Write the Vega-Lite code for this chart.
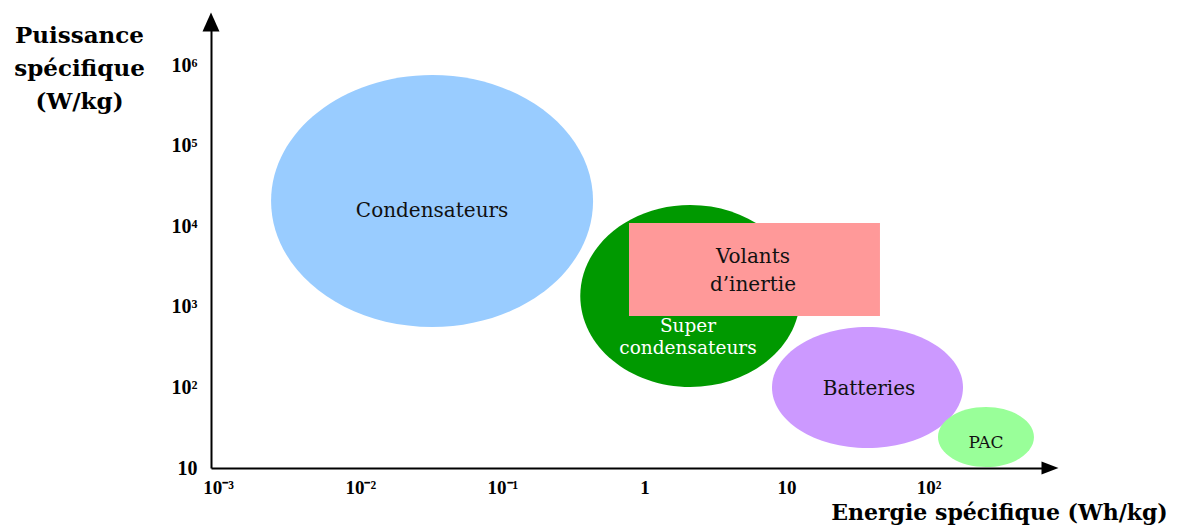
{
  "$schema": "https://vega.github.io/schema/vega-lite/v6.json",
  "width": 839,
  "height": 446,
  "autosize": {"type": "none"},
  "padding": {"left": 211, "top": 22, "right": 134, "bottom": 58},
  "background": "white",
  "config": {"view": {"stroke": null}},
  "datasets": {
    "ellipses": [
      {"name": "Condensateurs", "energie": 0.032, "puissance": 20550},
      {"name": "Super condensateurs", "energie": 2.1, "puissance": 1361},
      {"name": "Batteries", "energie": 37.1, "puissance": 99.7},
      {"name": "PAC", "energie": 253, "puissance": 24.2}
    ],
    "rects": [
      {"name": "Volants d'inertie", "energie_min": 0.778, "energie_max": 45.4, "puissance_min": 769, "puissance_max": 10960}
    ],
    "labels": [
      {"text": "Condensateurs", "energie": 0.032, "puissance": 13120, "group": "dark"},
      {"text": "Volants", "energie": 5.8, "puissance": 3494, "group": "dark"},
      {"text": "d’inertie", "energie": 5.8, "puissance": 1571, "group": "dark"},
      {"text": "Super", "energie": 2.024, "puissance": 490, "group": "light"},
      {"text": "condensateurs", "energie": 2.024, "puissance": 262, "group": "light"},
      {"text": "Batteries", "energie": 38.0, "puissance": 80.5, "group": "dark"}
    ],
    "small": [
      {"text": "PAC", "energie": 253, "puissance": 17.7}
    ],
    "arrows": [
      {"dir": "right", "energie": 714, "puissance": 10},
      {"dir": "up", "energie": 0.00089, "puissance": 3416000}
    ]
  },
  "encoding": {
    "x": {
      "field": "energie",
      "type": "quantitative",
      "scale": {"type": "log", "domain": [0.00089, 714], "nice": false},
      "axis": {
        "values": [0.001, 0.01, 0.1, 1, 10, 100],
        "labelExpr": "datum.value < 0.005 ? '10⁻³' : datum.value < 0.05 ? '10⁻²' : datum.value < 0.5 ? '10⁻¹' : datum.value < 5 ? '1' : datum.value < 50 ? '10' : '10²'",
        "grid": false,
        "ticks": false,
        "domainColor": "black",
        "domainWidth": 2,
        "labelFont": "Liberation Serif",
        "labelFontWeight": "bold",
        "labelFontSize": 19,
        "labelColor": "black",
        "labelPadding": 10,
        "labelFlush": false,
        "labelOverlap": false,
        "title": "Energie spécifique (Wh/kg)",
        "titleFont": "DejaVu Serif",
        "titleFontWeight": "bold",
        "titleFontSize": 22,
        "titleColor": "black",
        "titleAnchor": null,
        "titleAlign": "center",
        "titleBaseline": "alphabetic",
        "titleX": 788,
        "titleY": 51
      }
    },
    "y": {
      "field": "puissance",
      "type": "quantitative",
      "scale": {"type": "log", "domain": [10, 3416000], "nice": false},
      "axis": {
        "values": [10, 100, 1000, 10000, 100000, 1000000],
        "labelExpr": "datum.value < 50 ? '10' : datum.value < 500 ? '10²' : datum.value < 5000 ? '10³' : datum.value < 50000 ? '10⁴' : datum.value < 500000 ? '10⁵' : '10⁶'",
        "grid": false,
        "ticks": false,
        "domainColor": "black",
        "domainWidth": 2,
        "labelFont": "Liberation Serif",
        "labelFontWeight": "bold",
        "labelFontSize": 20,
        "labelColor": "black",
        "labelPadding": 14,
        "labelFlush": false,
        "labelOverlap": false,
        "title": ["Puissance", "spécifique", "(W/kg)"],
        "titleFont": "DejaVu Serif",
        "titleFontWeight": "bold",
        "titleFontSize": 23,
        "titleColor": "black",
        "titleAngle": 0,
        "titleAnchor": null,
        "titleAlign": "center",
        "titleBaseline": "alphabetic",
        "titleLineHeight": 33,
        "titleX": -132,
        "titleY": 20
      }
    }
  },
  "layer": [
    {
      "data": {"name": "ellipses"},
      "mark": {"type": "point", "filled": true, "opacity": 1, "size": 4, "strokeWidth": 0},
      "encoding": {
        "shape": {
          "field": "name",
          "type": "nominal",
          "legend": null,
          "scale": {
            "domain": ["Condensateurs", "Super condensateurs", "Batteries", "PAC"],
            "range": [
              "M-161,0C-161,-69.59 -88.92,-126 0,-126C88.92,-126 161,-69.59 161,0C161,69.59 88.92,126 0,126C-88.92,126 -161,69.59 -161,0Z",
              "M-110,0C-110,-50.26 -60.75,-91 0,-91C60.75,-91 110,-50.26 110,0C110,50.26 60.75,91 0,91C-60.75,91 -110,50.26 -110,0Z",
              "M-95.5,0C-95.5,-33.41 -52.74,-60.5 0,-60.5C52.74,-60.5 95.5,-33.41 95.5,0C95.5,33.41 52.74,60.5 0,60.5C-52.74,60.5 -95.5,33.41 -95.5,0Z",
              "M-48,0C-48,-16.57 -26.51,-30 0,-30C26.51,-30 48,-16.57 48,0C48,16.57 26.51,30 0,30C-26.51,30 -48,16.57 -48,0Z"
            ]
          }
        },
        "color": {
          "field": "name",
          "type": "nominal",
          "legend": null,
          "scale": {
            "domain": ["Condensateurs", "Super condensateurs", "Batteries", "PAC"],
            "range": ["#99ccff", "#009900", "#cc99ff", "#99ff99"]
          }
        }
      }
    },
    {
      "data": {"name": "rects"},
      "mark": {"type": "rect", "color": "#ff9999"},
      "encoding": {
        "x": {"field": "energie_min", "type": "quantitative"},
        "x2": {"field": "energie_max"},
        "y": {"field": "puissance_min", "type": "quantitative"},
        "y2": {"field": "puissance_max"}
      }
    },
    {
      "data": {"name": "labels"},
      "mark": {"type": "text", "font": "DejaVu Serif", "align": "center", "baseline": "alphabetic"},
      "encoding": {
        "text": {"field": "text"},
        "size": {
          "condition": {"test": "datum.group == 'light'", "value": 18.5},
          "value": 20
        },
        "color": {
          "condition": {"test": "datum.group == 'light'", "value": "white"},
          "value": "#111111"
        }
      }
    },
    {
      "data": {"name": "small"},
      "mark": {"type": "text", "font": "DejaVu Serif", "fontSize": 17, "align": "center", "baseline": "alphabetic", "color": "#111111"},
      "encoding": {
        "text": {"field": "text"}
      }
    },
    {
      "data": {"name": "arrows"},
      "transform": [{"filter": "datum.dir == 'right'"}],
      "mark": {"type": "point", "filled": true, "opacity": 1, "size": 4, "strokeWidth": 0, "color": "black", "shape": "M-8.5,-6.5L8.5,0L-8.5,6.5Z"},
      "encoding": {}
    },
    {
      "data": {"name": "arrows"},
      "transform": [{"filter": "datum.dir == 'up'"}],
      "mark": {"type": "point", "filled": true, "opacity": 1, "size": 4, "strokeWidth": 0, "color": "black", "shape": "M0,-9.5L8.5,9.5L-8.5,9.5Z"},
      "encoding": {}
    }
  ]
}
